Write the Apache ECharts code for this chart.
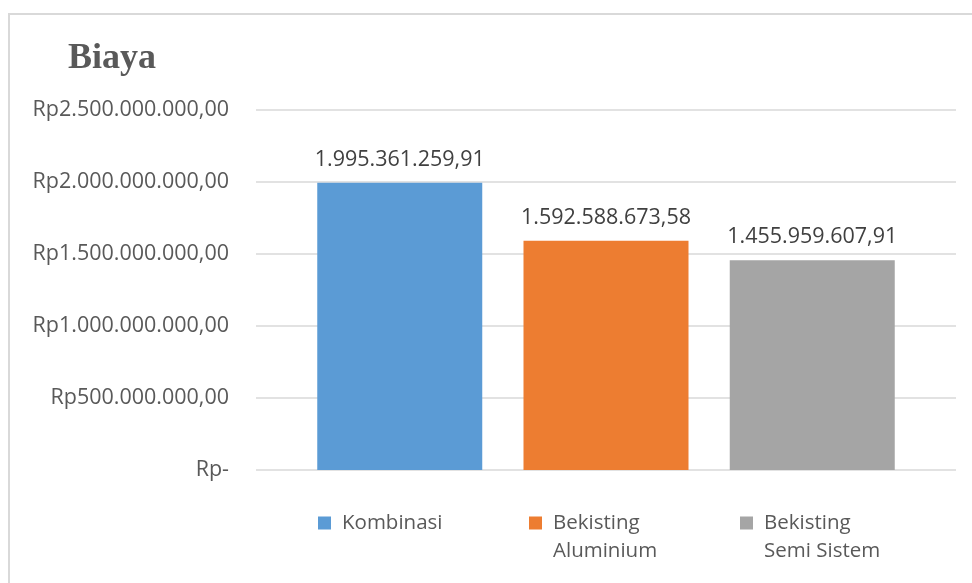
<!DOCTYPE html>
<html>
<head>
<meta charset="utf-8">
<script src="https://cdn.jsdelivr.net/npm/echarts@6/dist/echarts.min.js"></script>
<style>
html,body{margin:0;padding:0;background:#fff;}
#chart{width:972px;height:583px;}
</style>
</head>
<body>
<div id="chart"></div>
<script>
var titleText = 'Biaya';
var seriesNames = ['Kombinasi', 'Bekisting Aluminium', 'Bekisting Semi Sistem'];
var seriesValues = [1995361259.91, 1592588673.58, 1455959607.91];
var seriesColors = ['#5b9bd5', '#ed7d31', '#a5a5a5'];
var yMin = 0, yMax = 2500000000, yInterval = 500000000;

function fmtID(v) {
  var s = v.toFixed(2).split('.');
  var intPart = s[0].replace(/\B(?=(\d{3})+(?!\d))/g, '.');
  return intPart + ',' + s[1];
}

var FONT = '"Open Sans", sans-serif';
var chart = echarts.init(document.getElementById('chart'));

var series = seriesNames.map(function (n, i) {
  return {
    name: n,
    type: 'bar',
    data: [seriesValues[i]],
    barWidth: 165,
    barGap: '25%',
    itemStyle: { color: seriesColors[i] },
    label: {
      show: true,
      position: 'top',
      distance: 12,
      fontFamily: FONT,
      fontSize: 21.5,
      color: '#404040',
      formatter: function (p) { return fmtID(p.value); }
    }
  };
});

chart.setOption({
  animation: false,
  backgroundColor: '#fff',
  graphic: [{
    type: 'rect',
    shape: { x: 9, y: 14, width: 1200, height: 1000 },
    style: { fill: 'none', stroke: '#d9d9d9', lineWidth: 2 },
    silent: true
  }],
  title: {
    text: titleText,
    left: 68,
    top: 41,
    padding: 0,
    textStyle: {
      fontFamily: '"Liberation Serif", serif',
      fontWeight: 'bold',
      fontSize: 36,
      color: '#595959'
    }
  },
  legend: {
    data: seriesNames,
    left: 318,
    top: 481,
    padding: 0,
    itemWidth: 13,
    itemHeight: 13,
    itemGap: 10,
    icon: 'rect',
    textStyle: {
      padding: [0, 0, 0, 6],
      width: 177,
      lineHeight: 28,
      fontSize: 20.5,
      fontFamily: FONT,
      color: '#595959'
    },
    formatter: function (n) {
      return n.indexOf(' ') >= 0 ? ' \n' + n.replace(' ', '\n') : n;
    }
  },
  grid: { left: 256, right: 16, top: 110, bottom: 113, containLabel: false },
  xAxis: {
    type: 'category',
    data: [''],
    axisLine: { show: false },
    axisTick: { show: false },
    axisLabel: { show: false }
  },
  yAxis: {
    type: 'value',
    min: yMin,
    max: yMax,
    interval: yInterval,
    axisLine: { show: false },
    axisTick: { show: false },
    splitLine: { lineStyle: { color: '#d9d9d9', width: 1.5 } },
    axisLabel: {
      margin: 27,
      fontFamily: FONT,
      fontSize: 21.5,
      color: '#595959',
      formatter: function (v) { return v === 0 ? 'Rp-' : 'Rp' + fmtID(v); }
    }
  },
  series: series
});
</script>
</body>
</html>
